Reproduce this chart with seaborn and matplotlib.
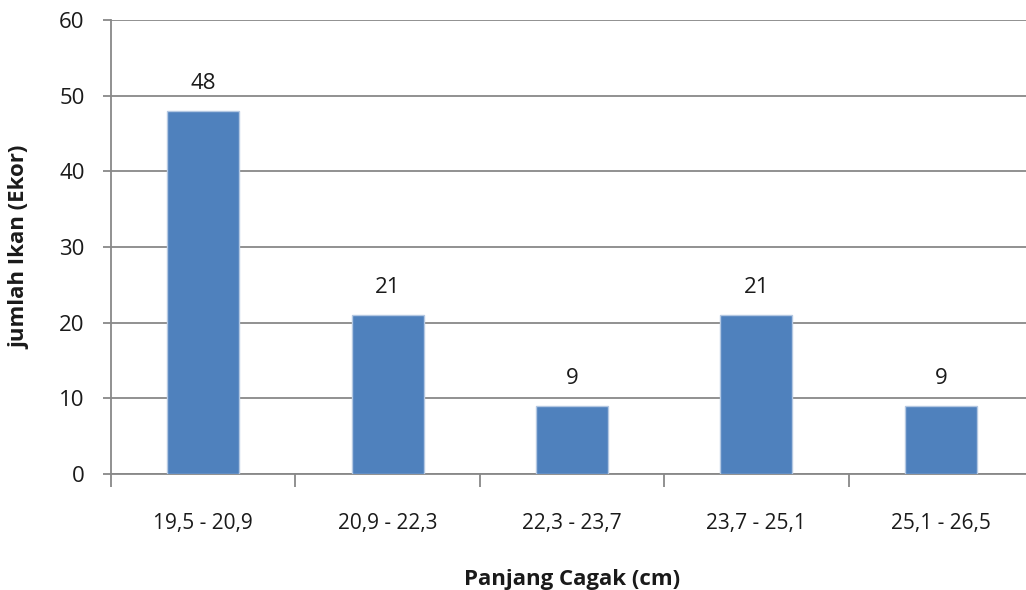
import matplotlib
matplotlib.use("Agg")
import matplotlib.pyplot as plt
import seaborn as sns
import numpy as np
import pandas as pd

categories = ["19,5 - 20,9", "20,9 - 22,3", "22,3 - 23,7", "23,7 - 25,1", "25,1 - 26,5"]
counts = [48, 21, 9, 21, 9]
y_ticks = [0, 10, 20, 30, 40, 50, 60]

sns.set_theme(style="white")
plt.rcParams["font.family"] = ["Open Sans", "DejaVu Sans"]

df = pd.DataFrame({"kelas": categories, "jumlah": counts})

fig = plt.figure(figsize=(10.26, 5.9), dpi=100)
ax = fig.add_axes([111 / 1026, 116 / 590, 922 / 1026, 454 / 590])

grid_color = "#888888"
text_color = "#1a1a1a"
sns.barplot(data=df, x="kelas", y="jumlah", color="#4F81BD", width=0.39,
            saturation=1, ax=ax, zorder=3, edgecolor="#b4c8e2", linewidth=1.0)

ax.set_ylim(0, 60)
ax.set_xlim(-0.5, len(categories) - 0.5)
ax.set_yticks(y_ticks)
ax.yaxis.grid(True, color=grid_color, linewidth=1.3, zorder=0)
ax.set_axisbelow(True)

for side in ["top", "right"]:
    ax.spines[side].set_visible(False)
for side in ["left", "bottom"]:
    ax.spines[side].set_color(grid_color)
    ax.spines[side].set_linewidth(1.3)

ax.tick_params(axis="y", which="major", direction="out", length=6, width=1.3,
               color=grid_color, labelsize=16, labelcolor=text_color, pad=13, left=True)
ax.tick_params(axis="x", which="major", length=0, labelsize=15,
               labelcolor=text_color, pad=28)
ax.set_xticks(np.arange(-0.5, len(categories) + 0.5, 1.0), minor=True)
ax.tick_params(axis="x", which="minor", direction="out", length=9, width=1.3,
               color=grid_color, bottom=True)

for container in ax.containers:
    ax.bar_label(container, labels=[str(v) for v in counts], padding=12,
                 fontsize=16, color=text_color)

ax.set_xlabel("Panjang Cagak (cm)", fontsize=16, fontweight="bold",
              color=text_color, labelpad=25)
ax.set_ylabel("jumlah Ikan (Ekor)", fontsize=16, fontweight="bold",
              color=text_color, labelpad=21)

fig.savefig("out.png", dpi=100)
